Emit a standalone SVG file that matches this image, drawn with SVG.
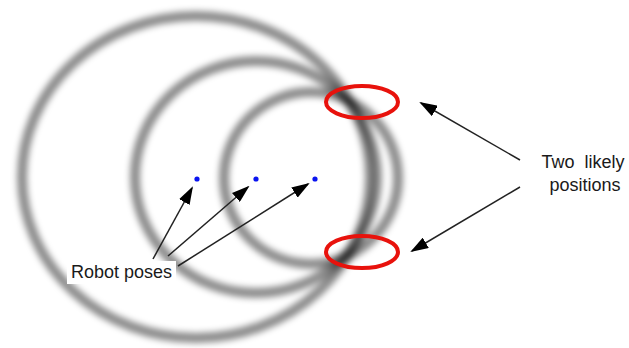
<svg xmlns="http://www.w3.org/2000/svg" width="629" height="348" viewBox="0 0 629 348">
  <style>
    .ring { fill: none; stroke: #000; stroke-opacity: 0.45; stroke-width: 10; }
    .likely { fill: none; stroke: #e8120c; stroke-width: 4; }
    .pose { fill: #0a14f0; }
    .conn { stroke: #222; stroke-width: 1.5; fill: none; marker-end: url(#arrow); }
    .label { font-family: "Liberation Sans", Arial, sans-serif; font-size: 18px; fill: #1a1a1a; }
  </style>
  <defs>
    <filter id="blur" x="-10%" y="-10%" width="120%" height="120%">
      <feGaussianBlur stdDeviation="3"/>
    </filter>
    <marker id="arrow" viewBox="0 0 18 12" refX="16" refY="6" markerWidth="18" markerHeight="12" markerUnits="userSpaceOnUse" orient="auto">
      <path d="M0,0 L18,6 L0,12 z" fill="#000"/>
    </marker>
  </defs>
  <rect width="629" height="348" fill="#fff"/>

  <g id="rings" filter="url(#blur)">
    <ellipse class="ring" cx="196" cy="177" rx="174" ry="161"/>
    <ellipse class="ring" cx="256" cy="177" rx="121" ry="116"/>
    <ellipse class="ring" cx="311" cy="178" rx="87" ry="86"/>
  </g>

  <g id="likely-top"><ellipse class="likely" cx="362" cy="102" rx="36" ry="16"/></g>
  <g id="likely-bottom"><ellipse class="likely" cx="362" cy="252" rx="36" ry="16"/></g>

  <g id="pose-1"><circle class="pose" cx="197" cy="179" r="2.6"/></g>
  <g id="pose-2"><circle class="pose" cx="256" cy="179" r="2.6"/></g>
  <g id="pose-3"><circle class="pose" cx="315" cy="179" r="2.6"/></g>

  <g id="connectors">
    <line class="conn" x1="153" y1="259" x2="192" y2="188"/>
    <line class="conn" x1="168" y1="256" x2="248" y2="187"/>
    <line class="conn" x1="178" y1="266" x2="308" y2="184"/>
    <line class="conn" x1="520" y1="160" x2="421" y2="103"/>
    <line class="conn" x1="520" y1="187" x2="412" y2="251"/>
  </g>

  <g id="robot-poses-label">
    <rect x="67" y="261" width="109" height="23" fill="#fff"/>
    <text class="label" x="71" y="278">Robot poses</text>
  </g>

  <g id="likely-label">
    <text class="label" x="583" y="168" text-anchor="middle" word-spacing="5">Two likely</text>
    <text class="label" x="585" y="191" text-anchor="middle">positions</text>
  </g>
</svg>
